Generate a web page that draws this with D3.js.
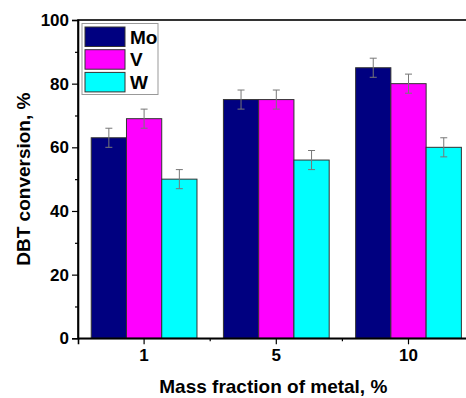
<!DOCTYPE html>
<html>
<head>
<meta charset="utf-8">
<script src="https://cdn.jsdelivr.net/npm/d3@7"></script>
<style>
  html, body { margin: 0; padding: 0; background: #fff; }
  svg { display: block; }
  text { font-family: Arial, "Liberation Sans", sans-serif; font-weight: bold; fill: #000; }
</style>
</head>
<body>
<script>
// Mass fraction of metal (%) on the category axis
const categories = ["1", "5", "10"];
// Catalyst metals shown as bar series
const series = ["Mo", "V", "W"];
// DBT conversion (%) per metal, one value per mass fraction
const moValues = [63, 75, 85];
const vValues = [69, 75, 80];
const wValues = [50, 56, 60];
// Error bar half-widths (%)
const moErrors = [3, 3, 3];
const vErrors = [3, 3, 3];
const wErrors = [3, 3, 3];
const yTicks = [0, 20, 40, 60, 80, 100];
const yMinorTicks = [10, 30, 50, 70, 90];
const colors = ["#000080", "#FF00FF", "#00FFFF"];

const W = 466, H = 398;
const margin = { left: 78, top: 20, right: -8.6, bottom: 60 };
const plotRight = W - margin.right;   // frame runs just past the window edge
const plotBottom = H - margin.bottom + 0.3;

const svg = d3.select("body").append("svg")
  .attr("width", W).attr("height", H);

const x = d3.scaleBand().domain(categories)
  .range([margin.left, plotRight]).padding(0);
const groupWidth = x.bandwidth() * 0.8;
const xs = d3.scaleBand().domain(series)
  .range([0, groupWidth]).padding(0);
const y = d3.scaleLinear().domain([0, 100]).range([plotBottom, margin.top]);

const table = categories.map((c, i) => ({
  cat: c,
  bars: [
    { s: "Mo", v: moValues[i], e: moErrors[i], color: colors[0] },
    { s: "V", v: vValues[i], e: vErrors[i], color: colors[1] },
    { s: "W", v: wValues[i], e: wErrors[i], color: colors[2] }
  ]
}));

// Bars
const groups = svg.append("g").selectAll("g").data(table).join("g")
  .attr("transform", d => `translate(${x(d.cat) + (x.bandwidth() - groupWidth) / 2},0)`);

groups.selectAll("rect").data(d => d.bars).join("rect")
  .attr("x", d => xs(d.s))
  .attr("y", d => y(d.v))
  .attr("width", xs.bandwidth())
  .attr("height", d => y(0) - y(d.v))
  .attr("fill", d => d.color)
  .attr("stroke", "#333")
  .attr("stroke-width", 1);

// Error bars
const eb = groups.selectAll("g.err").data(d => d.bars).join("g").attr("class", "err")
  .attr("stroke", "#777").attr("stroke-width", 1);
eb.append("line")
  .attr("x1", d => xs(d.s) + xs.bandwidth() / 2)
  .attr("x2", d => xs(d.s) + xs.bandwidth() / 2)
  .attr("y1", d => y(d.v + d.e))
  .attr("y2", d => y(d.v - d.e));
eb.selectAll("line.cap").data(d => [[d, d.v + d.e], [d, d.v - d.e]]).join("line")
  .attr("class", "cap")
  .attr("x1", d => xs(d[0].s) + xs.bandwidth() / 2 - 3.5)
  .attr("x2", d => xs(d[0].s) + xs.bandwidth() / 2 + 3.5)
  .attr("y1", d => y(d[1]))
  .attr("y2", d => y(d[1]));

// Frame
svg.append("rect")
  .attr("x", margin.left).attr("y", margin.top)
  .attr("width", plotRight - margin.left)
  .attr("height", plotBottom - margin.top)
  .attr("fill", "none").attr("stroke", "#000").attr("stroke-width", 1.6);

// Y axis
const yAxis = d3.axisLeft(y).tickValues(yTicks).tickSize(6).tickPadding(3)
  .tickFormat(d3.format("d"));
const gy = svg.append("g").attr("transform", `translate(${margin.left},0)`).call(yAxis);
gy.select(".domain").attr("stroke-width", 1.6);
gy.selectAll(".tick line").attr("stroke-width", 1.2);
gy.selectAll(".tick text").style("font-size", "17px").style("font-weight", "bold")
  .style("font-family", "Arial, 'Liberation Sans', sans-serif");
svg.append("g").attr("transform", `translate(${margin.left},0)`)
  .call(d3.axisLeft(y).tickValues(yMinorTicks).tickSize(3).tickFormat(""))
  .call(g => g.select(".domain").remove())
  .selectAll("line").attr("stroke-width", 1.2);

// X axis
const xAxis = d3.axisBottom(x).tickSize(6).tickPadding(5);
const gx = svg.append("g").attr("transform", `translate(0,${plotBottom})`).call(xAxis);
gx.select(".domain").attr("stroke-width", 1.6);
gx.selectAll(".tick line").attr("stroke-width", 1.2);
gx.selectAll(".tick text").style("font-size", "17px").style("font-weight", "bold")
  .style("font-family", "Arial, 'Liberation Sans', sans-serif");
// Minor ticks between the categories
const bounds = categories.slice(1).map(c => x(c));
svg.append("g").selectAll("line").data(bounds).join("line")
  .attr("x1", d => d).attr("x2", d => d)
  .attr("y1", plotBottom).attr("y2", plotBottom + 3)
  .attr("stroke", "#000").attr("stroke-width", 1.2);

// Axis titles
svg.append("text")
  .attr("x", (margin.left + plotRight) / 2 - 3).attr("y", 393)
  .attr("text-anchor", "middle").style("font-size", "19px")
  .text("Mass fraction of metal, %");
svg.append("text")
  .attr("transform", `translate(30,${(margin.top + plotBottom) / 2}) rotate(-90)`)
  .attr("text-anchor", "middle").style("font-size", "19px")
  .text("DBT conversion, %");

// Legend
const legend = svg.append("g").attr("transform", "translate(82,23.5)");
legend.append("rect")
  .attr("width", 76).attr("height", 71)
  .attr("fill", "#fff").attr("stroke", "#999").attr("stroke-width", 1);
const rows = legend.selectAll("g.row").data(series).join("g").attr("class", "row")
  .attr("transform", (d, i) => `translate(3,${3.5 + i * 22.7})`);
rows.append("rect")
  .attr("width", 40).attr("height", 19.5)
  .attr("fill", (d, i) => colors[i])
  .attr("stroke", "#333").attr("stroke-width", 1);
rows.append("text")
  .attr("x", 45).attr("y", 16.5)
  .style("font-size", "19px")
  .text(d => d);
</script>
</body>
</html>
